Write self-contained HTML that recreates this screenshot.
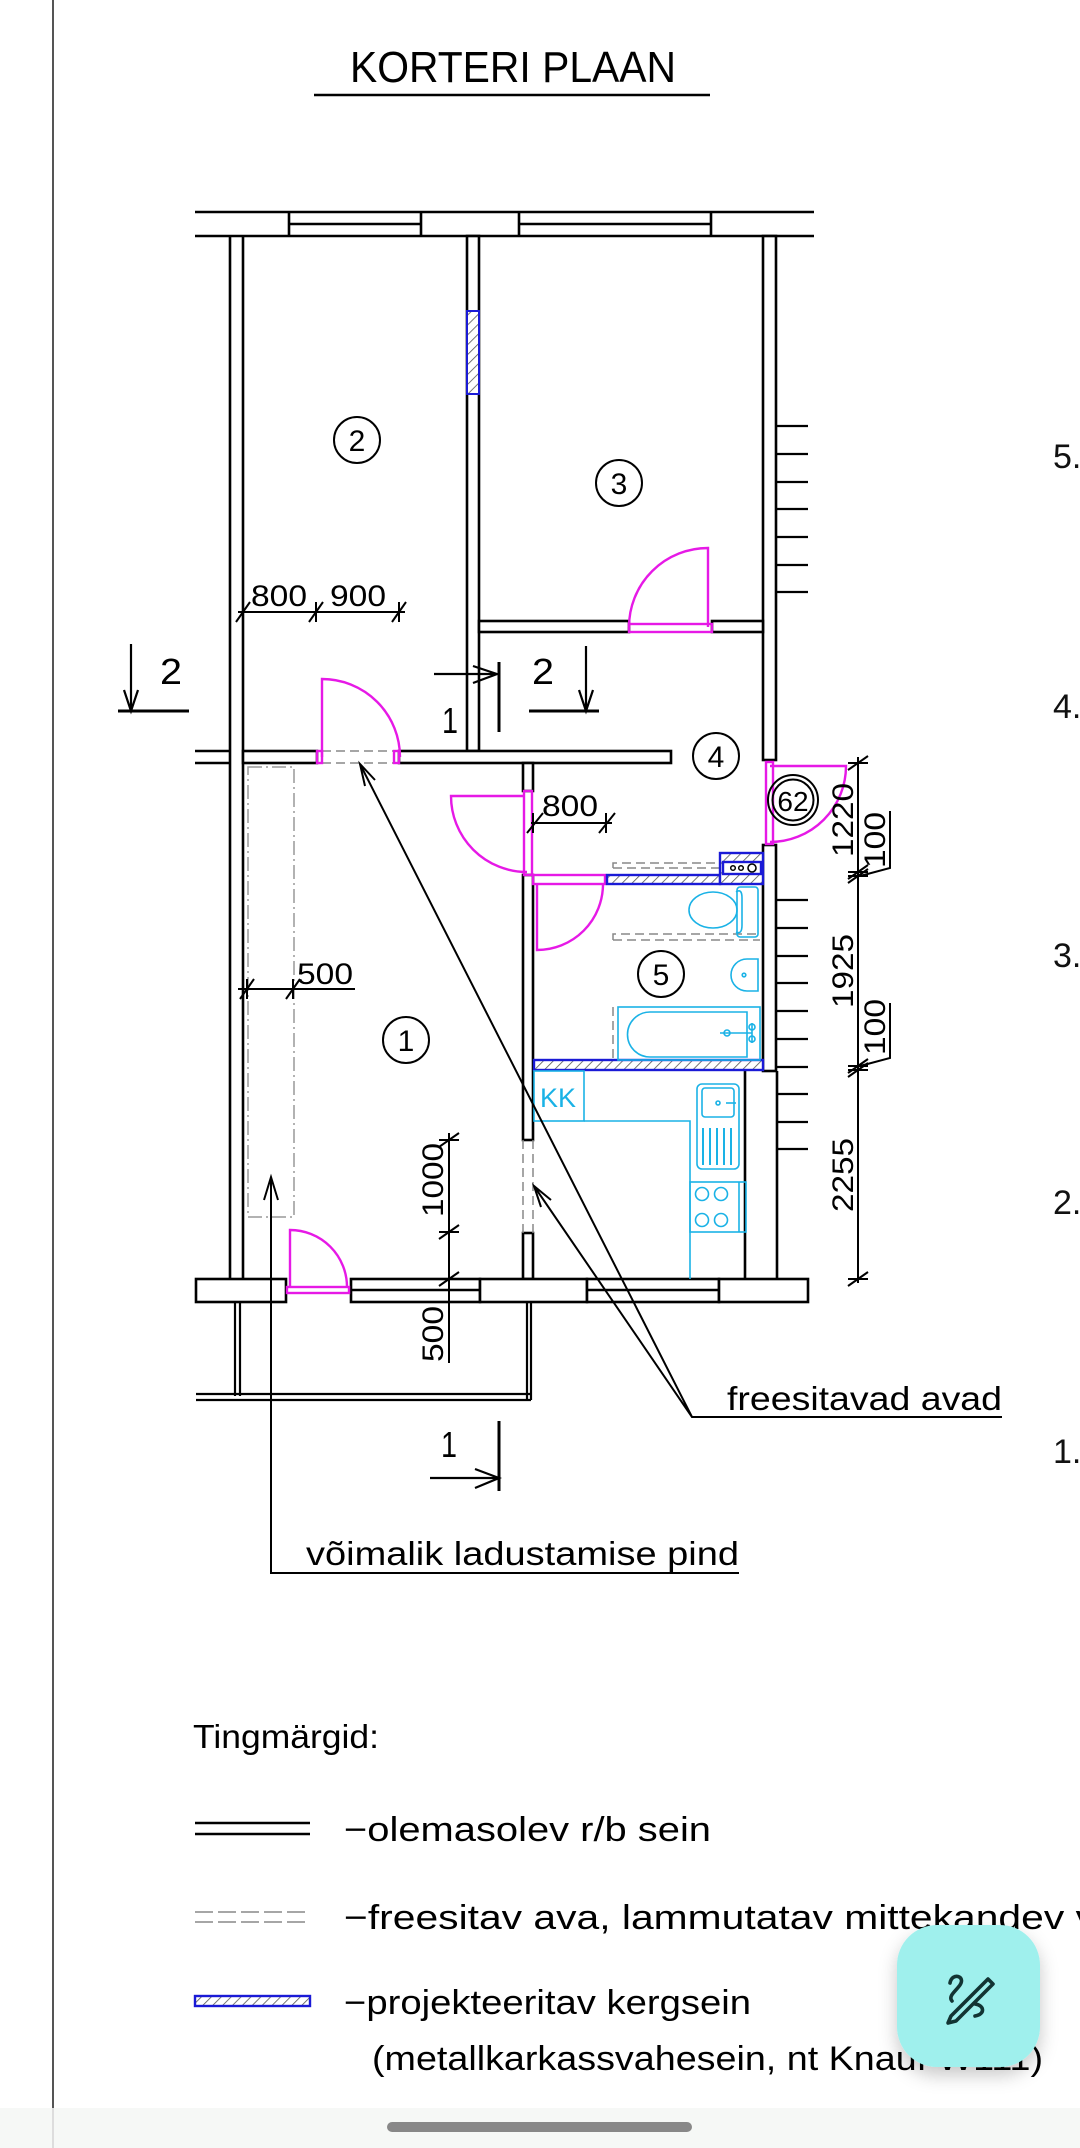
<!DOCTYPE html>
<html><head><meta charset="utf-8">
<style>
html,body{margin:0;padding:0;background:#fff;}
svg{display:block;}
text{font-family:"Liberation Sans",sans-serif;}
</style></head>
<body>
<svg width="1080" height="2148" viewBox="0 0 1080 2148" xmlns="http://www.w3.org/2000/svg">
<defs>
<pattern id="hb" patternUnits="userSpaceOnUse" width="7" height="7" patternTransform="rotate(45)">
<rect width="7" height="7" fill="#fff"/><line x1="0" y1="0" x2="0" y2="7" stroke="#555" stroke-width="1.6"/>
</pattern>
<filter id="sh" x="-30%" y="-30%" width="160%" height="170%"><feDropShadow dx="0" dy="8" stdDeviation="9" flood-color="#000" flood-opacity="0.22"/></filter>
</defs>
<rect width="1080" height="2148" fill="#fff"/>
<line x1="53" y1="0" x2="53" y2="2148" stroke="#555" stroke-width="2"/>

<!-- title -->
<text x="350" y="82" font-size="44" textLength="326" lengthAdjust="spacingAndGlyphs" fill="#000">KORTERI PLAAN</text>
<line x1="314" y1="95" x2="710" y2="95" stroke="#000" stroke-width="2.5"/>

<g stroke="#000" stroke-width="2.6" fill="#fff">
<!-- top wall -->
<line x1="195" y1="212" x2="814" y2="212"/>
<line x1="195" y1="236" x2="814" y2="236"/>
<line x1="289" y1="212" x2="289" y2="236"/><line x1="421" y1="212" x2="421" y2="236"/>
<line x1="519" y1="212" x2="519" y2="236"/><line x1="711" y1="212" x2="711" y2="236"/>
<line x1="289" y1="224" x2="421" y2="224"/><line x1="519" y1="224" x2="711" y2="224"/>
<!-- left exterior wall -->
<line x1="230" y1="236" x2="230" y2="1279"/><line x1="243" y1="236" x2="243" y2="1279"/>
<!-- partition 2|3 -->
<rect x="467" y="236" width="12" height="515"/>
<!-- right exterior wall -->
<rect x="763" y="236" width="13" height="524"/>
<rect x="763" y="845" width="13" height="226"/>
<line x1="745" y1="1071" x2="745" y2="1279"/>
<line x1="777" y1="1071" x2="777" y2="1279"/>
<!-- room3 bottom wall -->
<rect x="479" y="621" width="150" height="11"/>
<rect x="712" y="621" width="51" height="11"/>
<!-- hall wall -->
<line x1="195" y1="751" x2="230" y2="751"/><line x1="195" y1="763" x2="230" y2="763"/>
<rect x="243" y="751" width="74" height="12"/>
<rect x="399" y="751" width="272" height="12"/>
<!-- wall 1|4 -->
<rect x="523" y="763" width="10" height="28"/>
<rect x="523" y="875" width="10" height="265"/>
<rect x="523" y="1233" width="10" height="46"/>
<!-- bottom wall -->
<rect x="196" y="1279" width="90" height="23"/>
<rect x="351" y="1279" width="129" height="23"/>
<rect x="480" y="1279" width="107" height="23"/>
<rect x="587" y="1279" width="132" height="23"/>
<rect x="719" y="1279" width="89" height="23"/>
<line x1="351" y1="1290" x2="480" y2="1290"/><line x1="587" y1="1290" x2="719" y2="1290"/>
</g>
<g stroke="#000" stroke-width="2.2" fill="none">
<!-- balcony -->
<line x1="235" y1="1302" x2="235" y2="1396"/><line x1="240" y1="1302" x2="240" y2="1396"/>
<line x1="196" y1="1394" x2="531" y2="1394"/><line x1="196" y1="1400" x2="531" y2="1400"/>
<line x1="527" y1="1302" x2="527" y2="1400"/><line x1="531" y1="1302" x2="531" y2="1400"/>
<!-- ticks right -->
<path d="M776 426H808M776 454H808M776 482H808M776 509H808M776 537H808M776 565H808M776 592H808"/>
<path d="M776 900H808M776 928H808M776 956H808M776 983H808M776 1011H808M776 1039H808M776 1067H808M776 1094H808M776 1122H808M776 1149H808"/>
</g>
<!-- blue panel in partition -->
<rect x="467" y="311" width="12" height="83" fill="url(#hb)" stroke="#1a1ad6" stroke-width="2"/>

<!-- dashed openings -->
<g stroke="#888" stroke-width="1.5" stroke-dasharray="9,5" fill="none">
<line x1="322" y1="751" x2="394" y2="751"/><line x1="322" y1="763" x2="394" y2="763"/>
<line x1="523" y1="1140" x2="523" y2="1233"/><line x1="533" y1="1140" x2="533" y2="1233"/>
<path d="M613 868V863H720M613 868H720"/>
<path d="M613 940V934H760M613 940H760"/>
<line x1="613" y1="1007" x2="613" y2="1060"/>
</g>
<!-- storage dash-dot -->
<rect x="248" y="767" width="46" height="450" fill="none" stroke="#999" stroke-width="1.5" stroke-dasharray="14,4,2,4"/>

<!-- pink doors -->
<g stroke="#e619e6" stroke-width="2.4" fill="none">
<rect x="629" y="624" width="83" height="8"/>
<path d="M708 627V548A79 79 0 0 0 629 627"/>
<rect x="317" y="751" width="5" height="12"/><rect x="394" y="751" width="5" height="12"/>
<path d="M322 757V679A78 78 0 0 1 400 757"/>
<rect x="524" y="791" width="8" height="84"/>
<path d="M524 796H451A76 76 0 0 0 527 872"/>
<rect x="533" y="875" width="72" height="9"/>
<path d="M537 884V950A66 66 0 0 0 603 884"/>
<rect x="766" y="762" width="7" height="82"/>
<path d="M770 766H846A76 76 0 0 1 770 842"/>
<rect x="287" y="1287" width="62" height="6"/>
<path d="M290 1287V1230A57 57 0 0 1 347 1287"/>
</g>

<!-- projected light walls -->
<g stroke="#1a1ad6" stroke-width="2.4">
<rect x="607" y="875" width="113" height="9" fill="url(#hb)"/>
<rect x="720" y="853" width="43" height="31" fill="url(#hb)"/>
<rect x="723" y="862" width="38" height="12" fill="#fff"/>
<rect x="534" y="1060" width="229" height="10" fill="url(#hb)"/>
</g>
<circle cx="733" cy="868" r="2.3" fill="none" stroke="#000" stroke-width="1.5"/>
<circle cx="741" cy="868" r="2.3" fill="none" stroke="#000" stroke-width="1.5"/>
<circle cx="752" cy="868" r="4" fill="none" stroke="#000" stroke-width="1.6"/>

<!-- cyan fixtures -->
<g stroke="#1ab2e6" stroke-width="1.6" fill="none">
<ellipse cx="713" cy="910" rx="24" ry="18"/>
<rect x="737" y="887" width="21" height="50" rx="3"/>
<path d="M736 892Q742 888 742 898V925Q742 935 736 932"/>
<path d="M758 959H747A16 16 0 0 0 747 991H758Z"/>
<circle cx="744" cy="975" r="1.8"/>
<rect x="618" y="1007" width="142" height="53"/>
<path d="M650 1012H747V1057H650A22.5 22.5 0 0 1 650 1012Z"/>
<path d="M720 1033H752M752 1023V1043"/>
<circle cx="727" cy="1033" r="3"/><circle cx="752" cy="1027" r="3"/><circle cx="752" cy="1039" r="3"/>
<rect x="534" y="1071" width="50" height="50"/>
<path d="M584 1121H690V1279"/>
<rect x="697" y="1084" width="42" height="85" rx="5"/>
<rect x="702" y="1088" width="32" height="29" rx="3"/>
<circle cx="718" cy="1103" r="2"/>
<path d="M726 1103H736"/>
<path d="M703 1128V1165M710 1128V1165M717 1128V1165M724 1128V1165M731 1128V1165" stroke-width="2"/>
<rect x="690" y="1182" width="56" height="50"/>
<line x1="739" y1="1182" x2="739" y2="1232"/>
<circle cx="702" cy="1194" r="6.5"/><circle cx="721" cy="1194" r="6.5"/>
<circle cx="702" cy="1220" r="6.5"/><circle cx="721" cy="1220" r="6.5"/>
</g>
<text x="540" y="1107" font-size="27" fill="#1ab2e6" textLength="36" lengthAdjust="spacingAndGlyphs">KK</text>

<!-- room labels -->
<g stroke="#000" stroke-width="2" fill="none">
<circle cx="357" cy="440" r="23"/><circle cx="619" cy="483" r="23"/>
<circle cx="716" cy="756" r="23"/><circle cx="661" cy="974" r="23"/>
<circle cx="406" cy="1040" r="23"/>
<circle cx="793" cy="800" r="25"/><circle cx="793" cy="800" r="20.5"/>
</g>
<g font-size="30" text-anchor="middle" fill="#000">
<text x="357" y="451">2</text><text x="619" y="494">3</text>
<text x="716" y="767">4</text><text x="661" y="985">5</text>
<text x="406" y="1051">1</text>
<text x="793" y="811" font-size="28">62</text>
</g>

<!-- dimensions -->
<g stroke="#000" stroke-width="2" fill="none">
<line x1="238" y1="612" x2="405" y2="612"/>
<path d="M236 622L250 602M243 602V622M309 622L323 602M316 602V622M392 622L406 602M399 602V622"/>
<line x1="531" y1="823" x2="612" y2="823"/>
<path d="M527 833L543 813M533 813V833M599 833L615 813M606 813V833"/>
<line x1="238" y1="989" x2="355" y2="989"/>
<path d="M240 999L254 979M247 979V999M286 999L300 979M293 979V999"/>
<line x1="449" y1="1133" x2="449" y2="1363"/>
<path d="M439 1147L459 1133M439 1140H459M439 1239L459 1225M439 1232H459M439 1286L459 1272M439 1279H459"/>
<line x1="858" y1="757" x2="858" y2="1283"/>
<path d="M848 770L868 756M848 763H868M848 883L868 869M848 876H868M848 879L868 865M848 872H868"/>
<path d="M848 1077L868 1063M848 1070H868M848 1073L868 1059M848 1066H868M848 1286L868 1272M848 1279H868"/>
<path d="M890 811V868L860 876"/>
<path d="M890 1003V1058L860 1066"/>
</g>
<g font-size="30" fill="#000" text-anchor="middle">
<text x="279" y="606" textLength="56" lengthAdjust="spacingAndGlyphs">800</text>
<text x="358" y="606" textLength="56" lengthAdjust="spacingAndGlyphs">900</text>
<text x="570" y="816" textLength="56" lengthAdjust="spacingAndGlyphs">800</text>
<text x="325" y="984" textLength="56" lengthAdjust="spacingAndGlyphs">500</text>
<text transform="translate(443,1180) rotate(-90)" textLength="74" lengthAdjust="spacingAndGlyphs">1000</text>
<text transform="translate(443,1334) rotate(-90)" textLength="56" lengthAdjust="spacingAndGlyphs">500</text>
<text transform="translate(853,820) rotate(-90)" textLength="74" lengthAdjust="spacingAndGlyphs">1220</text>
<text transform="translate(885,840) rotate(-90)" textLength="56" lengthAdjust="spacingAndGlyphs">100</text>
<text transform="translate(853,971) rotate(-90)" textLength="74" lengthAdjust="spacingAndGlyphs">1925</text>
<text transform="translate(885,1027) rotate(-90)" textLength="56" lengthAdjust="spacingAndGlyphs">100</text>
<text transform="translate(853,1175) rotate(-90)" textLength="74" lengthAdjust="spacingAndGlyphs">2255</text>
</g>

<!-- section marks -->
<g stroke="#000" stroke-width="2.2" fill="none">
<path d="M131 644V711M124 690L131 711L138 690"/>
<line x1="118" y1="711" x2="189" y2="711" stroke-width="3"/>
<path d="M434 674H497M473 666L497 674L473 683"/>
<line x1="499" y1="662" x2="499" y2="732" stroke-width="3"/>
<path d="M586 646V711M579 690L586 711L593 690"/>
<line x1="529" y1="711" x2="599" y2="711" stroke-width="3"/>
<path d="M430 1478H499M475 1469L499 1478L475 1488"/>
<line x1="499" y1="1421" x2="499" y2="1491" stroke-width="3"/>
</g>
<g font-size="36" fill="#000">
<text x="160" y="684" textLength="22" lengthAdjust="spacingAndGlyphs">2</text>
<text x="442" y="733" textLength="16" lengthAdjust="spacingAndGlyphs">1</text>
<text x="532" y="684" textLength="22" lengthAdjust="spacingAndGlyphs">2</text>
<text x="441" y="1457" textLength="16" lengthAdjust="spacingAndGlyphs">1</text>
</g>

<!-- leaders -->
<g stroke="#000" stroke-width="2" fill="none">
<path d="M1002 1417H692L360 764M692 1417L534 1186"/>
<path d="M365 786L360 764L375 780M541 1207L534 1186L551 1200"/>
<path d="M271 1177V1573H739M264 1200L271 1177L278 1200"/>
</g>
<text x="727" y="1410" font-size="33" fill="#000" textLength="275" lengthAdjust="spacingAndGlyphs">freesitavad avad</text>
<text x="306" y="1565" font-size="33" fill="#000" textLength="433" lengthAdjust="spacingAndGlyphs">võimalik ladustamise pind</text>

<!-- right side labels -->
<g font-size="34" fill="#111">
<text x="1053" y="468">5.</text>
<text x="1053" y="718">4.</text>
<text x="1053" y="967">3.</text>
<text x="1053" y="1214">2.</text>
<text x="1053" y="1463">1.</text>
</g>

<!-- legend -->
<text x="193" y="1748" font-size="33" fill="#000" textLength="186" lengthAdjust="spacingAndGlyphs">Tingmärgid:</text>
<line x1="195" y1="1823" x2="310" y2="1823" stroke="#000" stroke-width="2.6"/>
<line x1="195" y1="1834" x2="310" y2="1834" stroke="#000" stroke-width="2.6"/>
<text x="344" y="1841" font-size="34" fill="#000" textLength="367" lengthAdjust="spacingAndGlyphs">−olemasolev r/b sein</text>
<line x1="195" y1="1912" x2="310" y2="1912" stroke="#888" stroke-width="1.6" stroke-dasharray="18,5"/>
<line x1="195" y1="1922" x2="310" y2="1922" stroke="#888" stroke-width="1.6" stroke-dasharray="18,5"/>
<text x="344" y="1929" font-size="34" fill="#000" textLength="752" lengthAdjust="spacingAndGlyphs">−freesitav ava, lammutatav mittekandev v</text>
<rect x="195" y="1996" width="115" height="10" fill="url(#hb)" stroke="#1a1ad6" stroke-width="2.4"/>
<text x="344" y="2014" font-size="34" fill="#000" textLength="407" lengthAdjust="spacingAndGlyphs">−projekteeritav kergsein</text>
<text x="372" y="2070" font-size="34" fill="#000" textLength="671" lengthAdjust="spacingAndGlyphs">(metallkarkassvahesein, nt Knauf W111)</text>

<!-- FAB -->
<rect x="897" y="1925" width="143" height="142" rx="40" fill="#9ff0ed" filter="url(#sh)"/>
<g stroke="#123433" stroke-width="3.6" fill="none" stroke-linecap="round">
<path d="M950 1983C952 1972 966 1976 960 1985C955 1992 948 1996 952 2001"/>
<path d="M975 2004C984 2005 986 2014 975 2016"/>
<path d="M951 2016L988 1979L993 1984L956 2021L948 2023Z" stroke-linejoin="round"/>
</g>

<!-- nav bar -->
<rect x="0" y="2108" width="1080" height="40" fill="#f6f8f6"/>
<line x1="53" y1="2108" x2="53" y2="2148" stroke="#ddd" stroke-width="2"/>
<rect x="387" y="2122" width="305" height="10" rx="5" fill="#888"/>
</svg>
</body></html>
